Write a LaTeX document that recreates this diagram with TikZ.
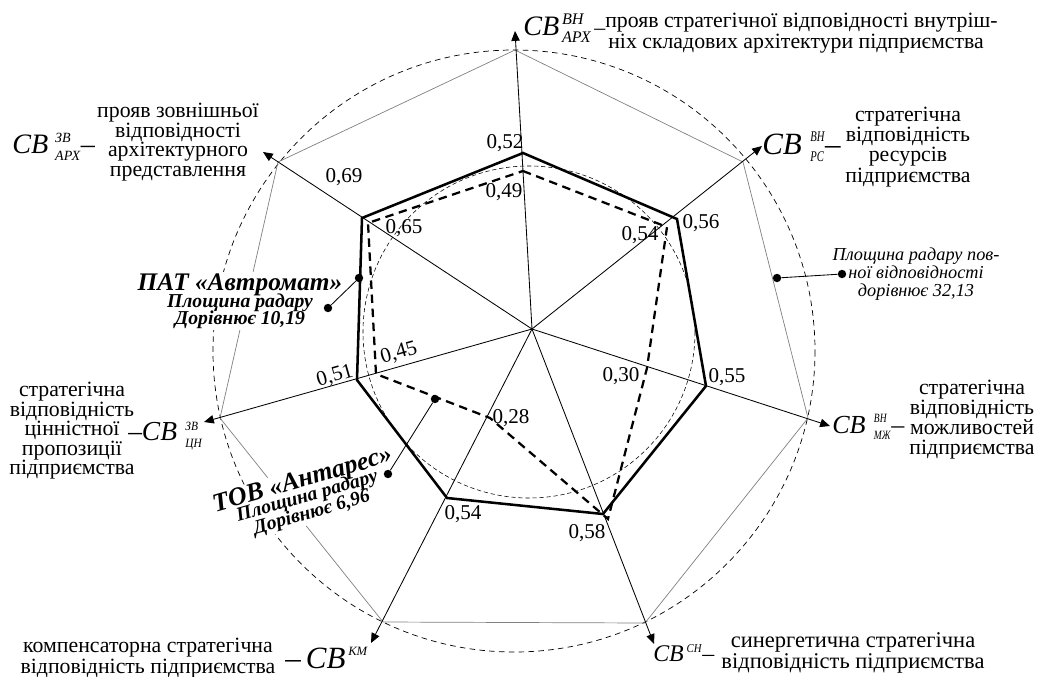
\documentclass[tikz,border=0pt]{standalone}
\usepackage{amsmath}
\usepackage{graphicx}
\usepackage{fontspec}
\setmainfont{Liberation Serif}
\usetikzlibrary{arrows.meta}

\tikzset{
  axis/.style={line width=0.6pt, -{Triangle[length=7pt,width=6pt]}},
  rim/.style={gray, line width=0.5pt},
  ring/.style={line width=0.5pt, dash pattern=on 4pt off 3pt},
  pat/.style={line width=1.8pt, line join=miter},
  tov/.style={line width=1.6pt, dash pattern=on 6pt off 4pt},
  val/.style={font=\fontsize{15}{15}\selectfont, inner sep=0pt},
  desc/.style={align=center, inner sep=0pt},
  svtag/.style={font=\fontsize{20}{20}\selectfont, inner sep=0pt, anchor=west},
  dot/.style={circle, fill, inner sep=0pt, minimum size=6pt},
  note/.style={align=center, fill=white, inner sep=1pt,
    font=\bfseries\itshape\fontsize{14}{14}\selectfont}
}

% labels of the axes
\def\svfs{11.5}
\def\svx{1}
\newcommand\svsz[1]{\scalebox{\svx}[1]{\fontsize{\svfs}{\svfs}\selectfont\itshape #1}}
\newcommand\svname[3][5pt]{$\text{\itshape СВ}^{\kern#1\text{\svsz{#2}}}_{\kern#1\text{\svsz{#3}}}$}
\newcommand\svtop[2][2pt]{$\text{\itshape СВ}^{\kern#1\text{\svsz{#2}}}$}

\begin{document}
\begin{tikzpicture}[x=0.025cm, y=-0.025cm]
\useasboundingbox (0,0) rectangle (1041,677);

% Centre, rim and tips of the axes
\coordinate (O) at (532,329);
\coordinate (v1) at (515,50);  \coordinate (t1) at (515,31);
\coordinate (v2) at (743,162); \coordinate (t2) at (762,146);
\coordinate (v3) at (808,418); \coordinate (t3) at (830,426);
\coordinate (v4) at (645,623); \coordinate (t4) at (654,644);
\coordinate (v5) at (383,622); \coordinate (t5) at (371,643);
\coordinate (v6) at (220,418); \coordinate (t6) at (204,422);
\coordinate (v7) at (278,162); \coordinate (t7) at (263,152);

% Circles
\draw[ring] (514,351) circle[radius=301];
\draw[ring, line width=0.4pt, dash pattern=on 3pt off 2pt] (529,332) circle[radius=166];

% Outer heptagon
\draw[rim] (v1) -- (v2) -- (v3) -- (v4) -- (v5) -- (v6) -- (v7) -- cycle;

% Axes
\foreach \i in {1,...,7}
  \draw[axis] (O) -- (t\i);

% ПАТ «Автромат»
\coordinate (p1) at (523,153);
\coordinate (p2) at (677,219);
\coordinate (p3) at (706,386);
\coordinate (p4) at (603,514);
\coordinate (p5) at (447,498);
\coordinate (p6) at (357,380);
\coordinate (p7) at (362,218);

% ТОВ «Антарес»
\coordinate (q1) at (523,171);
\coordinate (q2) at (667,227);
\coordinate (q3) at (647,368);
\coordinate (q4) at (608,519);
\coordinate (q5) at (490,418);
\coordinate (q6) at (376,374);
\coordinate (q7) at (368,223);

\draw[tov] (q1) -- (q2) -- (q3) -- (q4) -- (q5) -- (q6) -- (q7) -- cycle;
\draw[pat] (p1) -- (p2) -- (p3) -- (p4) -- (p5) -- (p6) -- (p7) -- cycle;

% Values
\node[val] (n1) at (505,143) {0,52};
\node[val] (n2) at (504,192) {0,49};
\node[val] (n3) at (701,223) {0,56};
\node[val] (n4) at (640,235) {0,54};
\node[val] (n5) at (727,377) {0,55};
\node[val] (n6) at (621,376) {0,30};
\node[val] (n7) at (587,533) {0,58};
\node[val] (n8) at (463,514) {0,54};
\node[val] (n9) at (511,418) {0,28};
\node[val, rotate=16] (n10) at (335,376) {0,51};
\node[val, rotate=16] (n11) at (399,353) {0,45};
\node[val] (n12) at (344,177) {0,69};
\node[val] (n13) at (404,228) {0,65};

% Axis labels
\node[svtag] (s1) at (523,28) {\svname[2pt]{ВН}{АРХ}};
\node[desc, font=\fontsize{15.5}{12}\selectfont] (d1) at (796,33)
  {\_прояв стратегічної відповідності внутріш-\\ніх складових архітектури підприємства};

\node[svtag, font=\fontsize{22}{22}\selectfont\def\svfs{10.5}\def\svx{0.72}] (s2) at (762,147) {\svname[6pt]{ВН}{РС}–};
\node[desc, font=\fontsize{15.5}{11.3}\selectfont] (d2) at (908,147)
  {стратегічна\\відповідність\\ресурсів\\підприємства};

\node[svtag, font=\fontsize{18.5}{18.5}\selectfont\def\svfs{9}\def\svx{0.75}] (s3) at (832,427) {\svname[6pt]{ВН}{МЖ}–};
\node[desc, font=\fontsize{15.5}{14.2}\selectfont] (d3) at (972,420)
  {стратегічна\\відповідність\\можливостей\\підприємства};

\node[svtag, font=\fontsize{17}{17}\selectfont\def\svfs{8.5}\def\svx{0.9}] (s4) at (653,653) {\svtop{СН}–};
\node[desc, font=\fontsize{16}{12}\selectfont] (d4) at (853,653)
  {синергетична стратегічна\\відповідність підприємства};

\node[svtag, font=\fontsize{22}{22}\selectfont\def\svfs{9}] (s5) at (285,658) {–\,\svtop{КМ}};
\node[desc, font=\fontsize{15.5}{12}\selectfont] (d5) at (148,658)
  {компенсаторна стратегічна\\відповідність підприємства};

\node[svtag, font=\fontsize{19.5}{19.5}\selectfont\def\svfs{9}\def\svx{0.9}] (s6) at (128,436) {–\svname[6pt]{ЗВ}{ЦН}};
\node[desc, font=\fontsize{15.5}{13.9}\selectfont] (d6) at (72,431)
  {стратегічна\\відповідність\\цінністної\\пропозиції\\підприємства};

\node[svtag, font=\fontsize{20}{20}\selectfont\def\svfs{10}] (s7) at (12,147) {\svname{ЗВ}{АРХ}–};
\node[desc, font=\fontsize{15.5}{13.9}\selectfont] (d7) at (178,142)
  {прояв зовнішньої\\відповідності\\архітектурного\\представлення};

% Notes
\node[dot] (fulldot) at (777,278) {};
\node[dot] (fullend) at (842,274) {};
\draw[line width=0.6pt] (fulldot) -- (fullend);
\node[desc, font=\itshape\fontsize{13}{12.8}\selectfont] (fullnote) at (916,274)
  {Площина радару пов-\\ної відповідності\\дорівнює 32,13};

\node[note] (patnote) at (240,301)
  {{\fontsize{18}{18}\selectfont ПАТ «Автромат»}\\[-2pt]Площина радару\\[-2pt]Дорівнює 10,19};
\node[dot] (patdot) at (328,308) {};
\node[dot] (patend) at (359,278) {};
\draw[line width=0.6pt] (patdot) -- (patend);

\node[note, rotate=16] (tovnote) at (307,496)
  {{\fontsize{18.5}{18.5}\selectfont ТОВ «Антарес»}\\[-3pt]Площина радару\\[-2pt]Дорівнює 6,96};
\node[dot] (tovdot) at (388,474) {};
\node[dot] (tovend) at (435,399) {};
\draw[line width=0.6pt] (tovdot) -- (tovend);
\end{tikzpicture}
\end{document}
